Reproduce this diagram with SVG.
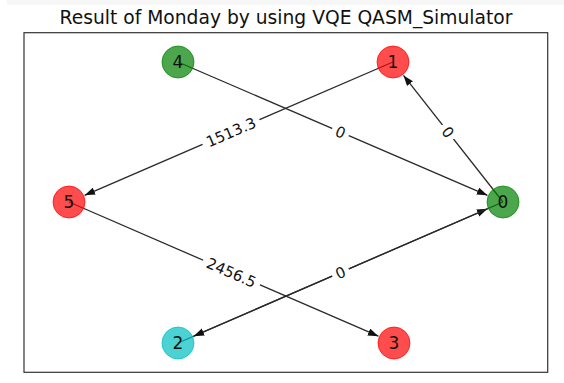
<svg xmlns="http://www.w3.org/2000/svg" width="564" height="383" viewBox="0 0 564 383">
<style>
.title{font-family:"DejaVu Sans",sans-serif;font-size:18.7px;fill:#111;text-anchor:middle}
.edge{stroke:#2a2a2a;stroke-width:1.3;fill:none}
.nl{font-family:"DejaVu Sans",sans-serif;font-size:17px;fill:#111;text-anchor:middle}
.el{font-family:"DejaVu Sans",sans-serif;font-size:15px;fill:#111;text-anchor:middle}
.lb{fill:#fff;stroke:none}
.g{fill:#008000;fill-opacity:0.7;stroke:#008000;stroke-opacity:0.7;stroke-width:1}
.r{fill:#ff0000;fill-opacity:0.7;stroke:#ff0000;stroke-opacity:0.7;stroke-width:1}
.c{fill:#00bfbf;fill-opacity:0.7;stroke:#00bfbf;stroke-opacity:0.7;stroke-width:1}
</style>
<defs>
<marker id="ah" markerUnits="userSpaceOnUse" markerWidth="11" markerHeight="8" refX="10.5" refY="3.75" orient="auto">
<path d="M0,0 L10.5,3.75 L0,7.5 z" fill="#111"/>
</marker>
</defs>
<rect x="7" y="0" width="557" height="5" fill="#f7f7f7"/>
<text class="title" x="286" y="24">Result of Monday by using VQE QASM_Simulator</text>
<rect x="24" y="32.7" width="523.7" height="339.6" fill="none" stroke="#333" stroke-width="1.2"/>
<g id="connectors">
<line class="edge" x1="503" y1="202" x2="403.5" y2="75.4" marker-end="url(#ah)"/>
<line class="edge" x1="178" y1="62" x2="487.4" y2="195.3" marker-end="url(#ah)"/>
<line class="edge" x1="178" y1="343" x2="487.4" y2="208.8" marker-end="url(#ah)"/>
<line class="edge" x1="503" y1="202" x2="193.6" y2="336.2" marker-end="url(#ah)"/>
<line class="edge" x1="393" y1="62" x2="84.6" y2="195.3" marker-end="url(#ah)"/>
<line class="edge" x1="69" y1="202" x2="378.4" y2="336.2" marker-end="url(#ah)"/>
<g transform="translate(448,132) rotate(51.8)"><rect class="lb" x="-9" y="-9" width="18" height="18" rx="3"/><text class="el" y="5.5">0</text></g>
<g transform="translate(340.5,132) rotate(23.3)"><rect class="lb" x="-9" y="-9" width="18" height="18" rx="3"/><text class="el" y="5.5">0</text></g>
<g transform="translate(231,132) rotate(-23.4)"><rect class="lb" x="-31" y="-9" width="62" height="18" rx="3"/><text class="el" y="5.5">1513.3</text></g>
<g transform="translate(231.5,272.5) rotate(23.5)"><rect class="lb" x="-31" y="-9" width="62" height="18" rx="3"/><text class="el" y="5.5">2456.5</text></g>
<g transform="translate(340.5,272.5) rotate(-23.5)"><rect class="lb" x="-9" y="-9" width="18" height="18" rx="3"/><text class="el" y="5.5">0</text></g>
</g>
<g id="node0"><circle class="g" cx="503" cy="202" r="16"/><text class="nl" x="503" y="208">0</text></g>
<g id="node1"><circle class="r" cx="393" cy="62" r="16"/><text class="nl" x="393" y="68">1</text></g>
<g id="node2"><circle class="c" cx="178" cy="343" r="16"/><text class="nl" x="178" y="349">2</text></g>
<g id="node3"><circle class="r" cx="394" cy="343" r="16"/><text class="nl" x="394" y="349">3</text></g>
<g id="node4"><circle class="g" cx="178" cy="62" r="16"/><text class="nl" x="178" y="68">4</text></g>
<g id="node5"><circle class="r" cx="69" cy="202" r="16"/><text class="nl" x="69" y="208">5</text></g>
</svg>
